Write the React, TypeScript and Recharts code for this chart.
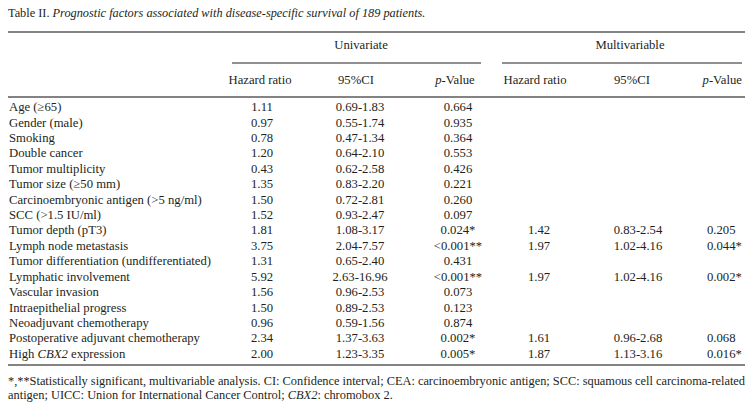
import React from 'react';
import { ScatterChart, Scatter, XAxis, YAxis, Customized } from 'recharts';

// ---- data ----
const factors = [
  'Age (≥65)',
  'Gender (male)',
  'Smoking',
  'Double cancer',
  'Tumor multiplicity',
  'Tumor size (≥50 mm)',
  'Carcinoembryonic antigen (>5 ng/ml)',
  'SCC (>1.5 IU/ml)',
  'Tumor depth (pT3)',
  'Lymph node metastasis',
  'Tumor differentiation (undifferentiated)',
  'Lymphatic involvement',
  'Vascular invasion',
  'Intraepithelial progress',
  'Neoadjuvant chemotherapy',
  'Postoperative adjuvant chemotherapy',
  'High CBX2 expression',
];
const uniHazard = ['1.11', '0.97', '0.78', '1.20', '0.43', '1.35', '1.50', '1.52', '1.81', '3.75', '1.31', '5.92', '1.56', '1.50', '0.96', '2.34', '2.00'];
const uniCI = ['0.69-1.83', '0.55-1.74', '0.47-1.34', '0.64-2.10', '0.62-2.58', '0.83-2.20', '0.72-2.81', '0.93-2.47', '1.08-3.17', '2.04-7.57', '0.65-2.40', '2.63-16.96', '0.96-2.53', '0.89-2.53', '0.59-1.56', '1.37-3.63', '1.23-3.35'];
const uniP = ['0.664', '0.935', '0.364', '0.553', '0.426', '0.221', '0.260', '0.097', '0.024*', '<0.001**', '0.431', '<0.001**', '0.073', '0.123', '0.874', '0.002*', '0.005*'];
const multiHazard = [null, null, null, null, null, null, null, null, '1.42', '1.97', null, '1.97', null, null, null, '1.61', '1.87'];
const multiCI = [null, null, null, null, null, null, null, null, '0.83-2.54', '1.02-4.16', null, '1.02-4.16', null, null, null, '0.96-2.68', '1.13-3.16'];
const multiP = [null, null, null, null, null, null, null, null, '0.205', '0.044*', null, '0.002*', null, null, null, '0.068', '0.016*'];

const titleLabel = 'Table II.';
const titleText = 'Prognostic factors associated with disease-specific survival of 189 patients.';
const groupLabels = ['Univariate', 'Multivariable'];
const subHeaders = ['Hazard ratio', '95%CI', 'p-Value', 'Hazard ratio', '95%CI', 'p-Value'];
const footnote1 = '*,**Statistically significant, multivariable analysis. CI: Confidence interval; CEA: carcinoembryonic antigen; SCC: squamous cell carcinoma-related';
const footnote2 = 'antigen; UICC: Union for International Cancer Control; CBX2: chromobox 2.';

// ---- layout ----
const W = 754;
const H = 414;
const FONT = '"Liberation Serif", "Times New Roman", serif';
const FS = 12.7;
const FS_TITLE = 12.3;
const FS_NOTE = 12.4;
const INK = '#231f20';
const RULE = '#5a5a5a';

const columns = [
  { values: factors, x: 9, anchor: 'start' },
  { values: uniHazard, x: 262, anchor: 'middle' },
  { values: uniCI, x: 360, anchor: 'middle' },
  { values: uniP, x: 458, anchor: 'middle' },
  { values: multiHazard, x: 539, anchor: 'middle' },
  { values: multiCI, x: 638, anchor: 'middle' },
  { values: multiP, x: 707, anchor: 'start' },
];
const headerX = [
  { x: 260, anchor: 'middle' },
  { x: 356, anchor: 'middle' },
  { x: 455, anchor: 'middle' },
  { x: 535, anchor: 'middle' },
  { x: 632, anchor: 'middle' },
  { x: 742, anchor: 'end' },
];
const groupX = [
  { x: 361, from: 232, to: 481 },
  { x: 630, from: 502, to: 742 },
];

const ITALIC_TOKENS = /(CBX2)/;

function rich(text: string) {
  if (text.startsWith('p-')) {
    return [
      <tspan key="p" fontStyle="italic">p</tspan>,
      <tspan key="r">{text.slice(1)}</tspan>,
    ];
  }
  return text.split(ITALIC_TOKENS).map((part, i) =>
    ITALIC_TOKENS.test(part) ? (
      <tspan key={i} fontStyle="italic">{part}</tspan>
    ) : (
      <tspan key={i}>{part}</tspan>
    )
  );
}

const makeShape = (anchor: string) => (props: any) => {
  const { cx, cy, payload } = props;
  if (cx == null || cy == null) return <g />;
  return (
    <text x={cx} y={cy} dy="0.35em" textAnchor={anchor} fontFamily={FONT} fontSize={FS} fill={INK}>
      {rich(String(payload.text))}
    </text>
  );
};

const Overlay = () => {
  const t = { fontFamily: FONT, fontSize: FS, fill: INK } as any;
  const n = { fontFamily: FONT, fontSize: FS_NOTE, fill: INK } as any;
  return (
    <g>
      <text x={8} y={13} dy="0.35em" fontFamily={FONT} fontSize={FS_TITLE} fill={INK}>
        <tspan>{titleLabel} </tspan>
        <tspan fontStyle="italic">{titleText}</tspan>
      </text>
      <line x1={8} x2={745} y1={32} y2={32} stroke={RULE} strokeWidth={1.6} />
      {groupLabels.map((g, i) => (
        <g key={g}>
          <text x={groupX[i].x} y={45} dy="0.35em" textAnchor="middle" {...t}>{g}</text>
          <line x1={groupX[i].from} x2={groupX[i].to} y1={63} y2={63} stroke={INK} strokeWidth={1} />
        </g>
      ))}
      {subHeaders.map((s, i) => (
        <text key={i} x={headerX[i].x} y={80} dy="0.35em" textAnchor={headerX[i].anchor} {...t}>
          {rich(s)}
        </text>
      ))}
      <line x1={8} x2={745} y1={97} y2={97} stroke={RULE} strokeWidth={1.6} />
      <line x1={8} x2={745} y1={365} y2={365} stroke={RULE} strokeWidth={1.6} />
      <text x={8} y={381} dy="0.35em" textLength={737} lengthAdjust="spacing" {...n}>{footnote1}</text>
      <text x={8} y={395} dy="0.35em" {...n}>{rich(footnote2)}</text>
    </g>
  );
};

export default function App() {
  return (
    <div style={{ position: 'absolute', left: 0, top: 0, width: W, height: H, background: '#fff' }}>
      <ScatterChart width={W} height={H} margin={{ top: 99, right: 0, bottom: 53, left: 0 }}>
        <XAxis type="number" dataKey="x" domain={[0, W]} hide />
        <YAxis type="category" dataKey="factor" allowDuplicatedCategory={false} reversed hide />
        {columns.map((col, ci) => (
          <Scatter
            key={ci}
            isAnimationActive={false}
            data={factors
              .map((f, i) => ({ factor: f, x: col.x, text: col.values[i] }))
              .filter((d) => d.text != null)}
            shape={makeShape(col.anchor)}
          />
        ))}
        <Customized component={Overlay} />
      </ScatterChart>
    </div>
  );
}
